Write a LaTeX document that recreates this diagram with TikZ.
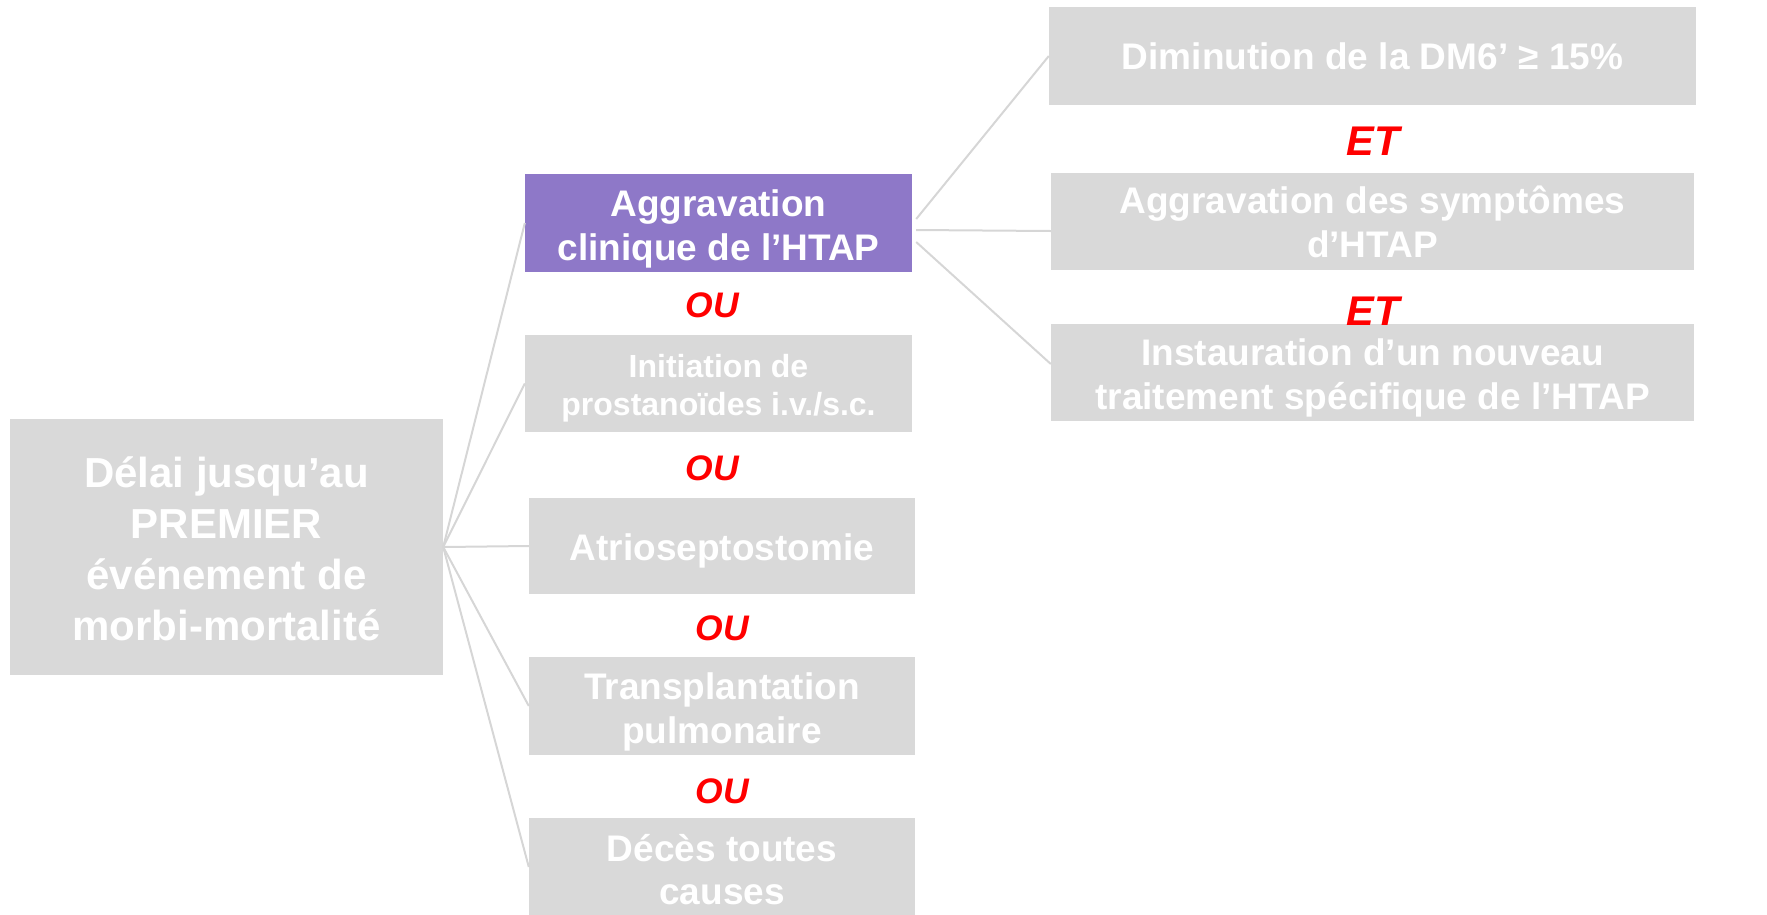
\documentclass[tikz,border=0pt]{standalone}
\usepackage{fontspec}
\setmainfont{Liberation Sans}
\definecolor{boxgrey}{HTML}{D9D9D9}
\definecolor{clinviolet}{RGB}{142,120,200}
\definecolor{linkgrey}{HTML}{D6D6D6}
\newcommand\padtop[1]{\rule{0pt}{#1pt}}
\begin{document}
\begin{tikzpicture}[x=1pt,y=-1pt,
        crit/.style={fill=boxgrey,text=white,align=center,inner sep=0pt},
        fsize/.style 2 args={font=\fontsize{#1}{#2}\selectfont\bfseries},
        ouword/.style={text=red,font=\fontsize{35.5}{42}\selectfont\bfseries\itshape},
        etword/.style={text=red,font=\fontsize{41.5}{48}\selectfont\bfseries\itshape},
        link/.style={draw=linkgrey,line width=2pt}]
        \useasboundingbox (0,0) rectangle (1767,914);
        % critere principal
        \node[crit,fsize={42}{51},minimum width=433,minimum height=256] (delai) at (226.5,547) {\padtop{34}Délai jusqu’au\\PREMIER\\événement de\\morbi-mortalité};
        % evenements
        \node[crit,fill=clinviolet,fsize={37}{44},minimum width=387,minimum height=98] (clin) at (718.5,223) {\padtop{39}Aggravation\\clinique de l’HTAP};
        \node[crit,fsize={32}{38},minimum width=387,minimum height=97] (prost) at (718.5,383.5) {\padtop{33}Initiation de\\prostanoïdes i.v./s.c.};
        \node[crit,fsize={37}{44},minimum width=386,minimum height=96] (atrio) at (722,546) {\padtop{37.5}Atrioseptostomie};
        \node[crit,fsize={37}{44},minimum width=386,minimum height=98] (transp) at (722,706) {\padtop{38}Transplantation\\pulmonaire};
        \node[crit,fsize={37}{43},minimum width=386,minimum height=98] (deces) at (722,867) {\padtop{31.5}Décès toutes\\causes};
        \node[ouword] (ou1) at (712,305) {OU};
        \node[ouword] (ou2) at (712,468) {OU};
        \node[ouword] (ou3) at (722,628) {OU};
        \node[ouword] (ou4) at (722,791) {OU};
        % aggravation clinique
        \node[crit,fsize={37}{44},minimum width=647,minimum height=98] (dm6) at (1372.5,56) {Diminution de la DM6’ ≥ 15\%};
        \node[crit,fsize={37}{44},minimum width=643,minimum height=97] (sympt) at (1372.5,221.5) {Aggravation des symptômes\\d’HTAP};
        \node[crit,fsize={37}{44},minimum width=643,minimum height=97] (trait) at (1372.5,372.5) {\padtop{38.5}Instauration d’un nouveau\\traitement spécifique de l’HTAP};
        \node[etword] (et1) at (1373,141) {ET};
        \node[etword] (et2) at (1373,311) {ET};
        % liens
        \foreach \dest in {clin,prost,atrio,transp,deces}
          \draw[link] (delai.east) -- (\dest.west);
        \draw[link] ([xshift=4,yshift=4]clin.east) -- (dm6.west);
        \draw[link] ([xshift=4,yshift=-7]clin.east) -- ([yshift=-9.5]sympt.west);
        \draw[link] ([xshift=4,yshift=-19]clin.east) -- ([yshift=8.5]trait.west);
        \end{tikzpicture}
\end{document}
